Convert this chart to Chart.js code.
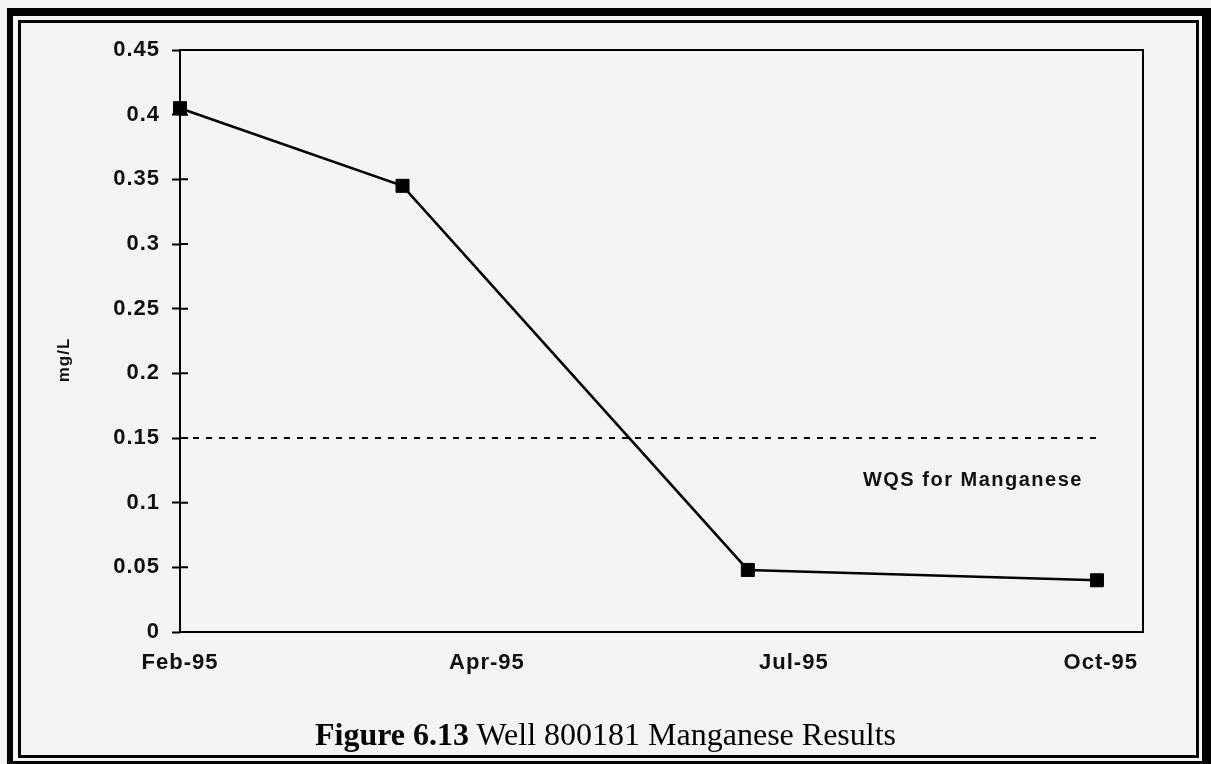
<!DOCTYPE html>
<html>
<head>
<meta charset="utf-8">
<title>Well 800181 Manganese Results</title>
<script src="https://cdn.jsdelivr.net/npm/chart.js@4.4.1/dist/chart.umd.min.js"></script>
<style>
  html, body { margin: 0; padding: 0; background: #f4f4f4; }
  #page { position: relative; width: 1211px; height: 764px; overflow: hidden; background: #f4f4f4; }
  #outer { position: absolute; box-sizing: border-box; left: 7px; top: 8px; width: 1204px; height: 761px;
           border-style: solid; border-color: #000; border-width: 8px 9px 8px 6px; }
  #inner { position: absolute; box-sizing: border-box; left: 18px; top: 20px; width: 1181px; height: 738px;
           border: 3px solid #000; }
  #chart { position: absolute; left: 0; top: 0; }
  #caption { position: absolute; left: 0; top: 718px; width: 1211px; text-align: center;
             font-family: "Liberation Serif", "Times New Roman", serif; font-size: 32px; line-height: 32px; color: #000; }
  #caption b { font-weight: bold; }
</style>
</head>
<body>
<div id="page">
  <div id="outer"></div>
  <div id="inner"></div>
  <canvas id="chart" width="1211" height="764"></canvas>
  <div id="caption"><b>Figure 6.13</b> Well 800181 Manganese Results</div>
</div>
<script>
// Sampling days, counted from the first (February 1995) sample
const sampleDay = [0, 58, 148, 239];
// Manganese concentration, mg/L
const manganese = [0.405, 0.345, 0.048, 0.040];
// Water quality standard for manganese, mg/L
const wqsManganese = 0.15;
const wqsText = 'WQS for Manganese';

// Date-axis ticks (days) and their labels
const xTickDays = [0, 80, 160, 240];
const xTickLabels = ['Feb-95', 'Apr-95', 'Jul-95', 'Oct-95'];
const axisEndDay = 251;

const yMin = 0, yMax = 0.45, yStep = 0.05;
const yTitle = 'mg/L';

const INK = '#111';
const SANS = '"Liberation Sans", Arial, Helvetica, sans-serif';

// Draws the plot box, the inner half of the value-axis ticks, the axis title and the WQS note
const decorations = {
  id: 'decorations',
  beforeDraw(chart) {
    chart.ctx.letterSpacing = '1px';
  },
  afterDraw(chart) {
    const { ctx, chartArea: a, scales: { x, y } } = chart;
    ctx.save();
    ctx.strokeStyle = '#000';
    ctx.lineWidth = 2;
    ctx.strokeRect(a.left, a.top, a.right - a.left, a.bottom - a.top);

    ctx.beginPath();
    y.ticks.forEach(t => {
      const py = y.getPixelForValue(t.value);
      ctx.moveTo(a.left, py);
      ctx.lineTo(a.left + 8, py);
    });
    ctx.stroke();

    ctx.fillStyle = INK;
    ctx.letterSpacing = '1px';
    ctx.font = 'bold 17px ' + SANS;
    ctx.translate(64, 360);
    ctx.rotate(-Math.PI / 2);
    ctx.textAlign = 'center';
    ctx.textBaseline = 'middle';
    ctx.fillText(yTitle, 0, 0);
    ctx.restore();

    ctx.save();
    ctx.fillStyle = INK;
    ctx.letterSpacing = '1.5px';
    ctx.font = 'bold 20px ' + SANS;
    ctx.textAlign = 'left';
    ctx.textBaseline = 'middle';
    ctx.fillText(wqsText, x.getPixelForValue(178), y.getPixelForValue(0.117));
    ctx.restore();
  }
};

Chart.defaults.font.family = SANS;
Chart.defaults.font.size = 22;
Chart.defaults.font.weight = 'bold';
Chart.defaults.color = INK;

new Chart(document.getElementById('chart'), {
  type: 'line',
  data: {
    datasets: [
      {
        label: 'Manganese',
        data: sampleDay.map((d, i) => ({ x: d, y: manganese[i] })),
        borderColor: '#000',
        borderWidth: 2.5,
        pointStyle: 'rect',
        pointRadius: 9.2,
        pointBorderWidth: 1,
        pointBackgroundColor: '#000',
        pointBorderColor: '#000',
        tension: 0,
        clip: false,
        order: 1
      },
      {
        label: wqsText,
        data: [
          { x: sampleDay[0], y: wqsManganese },
          { x: sampleDay[sampleDay.length - 1], y: wqsManganese }
        ],
        borderColor: '#000',
        borderWidth: 2,
        borderDash: [6, 7],
        pointRadius: 0,
        tension: 0,
        order: 2
      }
    ]
  },
  options: {
    responsive: false,
    animation: false,
    layout: { padding: { left: 0, top: 50, right: 68, bottom: 0 } },
    plugins: { legend: { display: false }, tooltip: { enabled: false } },
    scales: {
      x: {
        type: 'linear',
        min: 0,
        max: axisEndDay,
        grid: { display: false, drawTicks: false },
        border: { display: false },
        afterBuildTicks(scale) { scale.ticks = xTickDays.map(v => ({ value: v })); },
        afterFit(scale) { scale.height = 132; },
        ticks: {
          autoSkip: false,
          maxRotation: 0,
          padding: 18,
          callback: v => xTickLabels[xTickDays.indexOf(v)]
        }
      },
      y: {
        min: yMin,
        max: yMax,
        grid: { display: true, drawOnChartArea: false, drawTicks: true, tickLength: 8, tickWidth: 2, tickColor: '#000' },
        border: { display: false },
        afterFit(scale) { scale.width = 180; },
        ticks: {
          stepSize: yStep,
          padding: 12,
          callback: v => String(Number(v.toFixed(2)))
        }
      }
    }
  },
  plugins: [decorations]
});
</script>
</body>
</html>
